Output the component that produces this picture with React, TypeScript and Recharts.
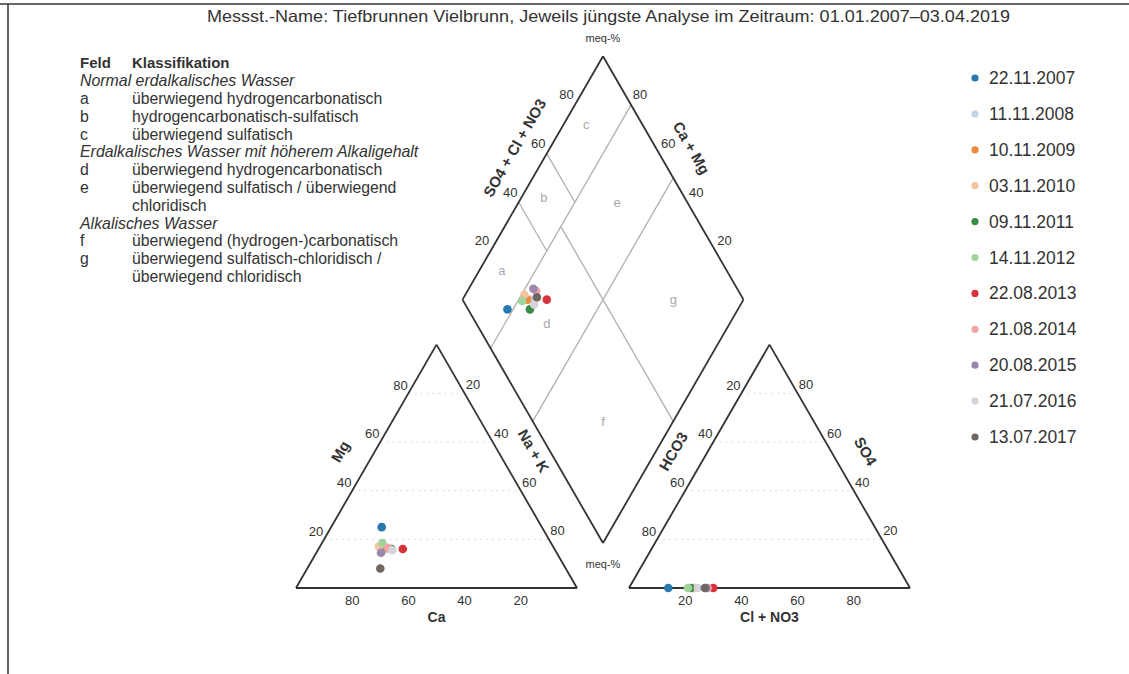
import React from 'react';
import { ScatterChart, Scatter, XAxis, YAxis, ReferenceLine } from 'recharts';

// ---------- data ----------
const sampleDates = [
  '22.11.2007', '11.11.2008', '10.11.2009', '03.11.2010', '09.11.2011', '14.11.2012',
  '22.08.2013', '21.08.2014', '20.08.2015', '21.07.2016', '13.07.2017',
];
const sampleColors = [
  '#2a78b0', '#c2d3e3', '#ee8a3c', '#f6c3a0', '#3a8b45', '#9fd49a',
  '#d8333a', '#f2a3a8', '#9a87ad', '#d6d2dc', '#6e6663',
];
// cations (meq-%)
const caPct = [57, 60, 61, 62, 58, 60, 54, 59, 62.5, 58, 66];
const mgPct = [25, 16, 16, 17, 16, 18.5, 16, 16.5, 14.5, 15.5, 8];
const naKPct = [18, 24, 23, 21, 26, 21.5, 30, 24.5, 23, 26.5, 26];
// anions (meq-%)
const hco3Pct = [86, 76, 77, 77, 78, 79, 70, 72, 72.5, 75.5, 73];
const so4Pct = [0, 0, 0, 0, 0, 0, 0, 0, 0, 0, 0];
const clNo3Pct = [14, 24, 23, 23, 22, 21, 30, 28, 27.5, 24.5, 27];

const tickValues = [20, 40, 60, 80];
const fieldLetters = ['a', 'b', 'c', 'd', 'e', 'f', 'g'];
const fieldLetterA = [0.2, 0.5, 0.8, 0.25, 0.75, 0.25, 0.75];
const fieldLetterN = [0.08, 0.08, 0.08, 0.35, 0.35, 0.75, 0.75];

const titleText = 'Messst.-Name: Tiefbrunnen Vielbrunn, Jeweils jüngste Analyse im Zeitraum: 01.01.2007\u201303.04.2019';
const classRows: Array<[string, string, string]> = [
  ['Feld', 'Klassifikation', 'head'],
  ['Normal erdalkalisches Wasser', '', 'group'],
  ['a', 'überwiegend hydrogencarbonatisch', 'item'],
  ['b', 'hydrogencarbonatisch-sulfatisch', 'item'],
  ['c', 'überwiegend sulfatisch', 'item'],
  ['Erdalkalisches Wasser mit höherem Alkaligehalt', '', 'group'],
  ['d', 'überwiegend hydrogencarbonatisch', 'item'],
  ['e', 'überwiegend sulfatisch / überwiegend', 'item'],
  ['', 'chloridisch', 'item'],
  ['Alkalisches Wasser', '', 'group'],
  ['f', 'überwiegend (hydrogen-)carbonatisch', 'item'],
  ['g', 'überwiegend sulfatisch-chloridisch /', 'item'],
  ['', 'überwiegend chloridisch', 'item'],
];

// ---------- layout ----------
const W = 1129;
const H = 674;
const S = 2.81;
const ORIGIN_X = 296;
const BASE_Y = 588;
const GAP = 18.5;
const R3 = Math.sqrt(3) / 2;
const XMIN = -ORIGIN_X / S;
const XMAX = (W - ORIGIN_X) / S;
const YMAX = BASE_Y / S;
const YMIN = -(H - BASE_Y) / S;
const X0 = 100 + GAP;
const FONT = "'Liberation Sans', Arial, Helvetica, sans-serif";
const TXT = '#333';

type P = { x: number; y: number };
const cat = (ca: number, mg: number, nak: number): P => {
  const t = ca + mg + nak;
  return { x: (100 * (nak + mg / 2)) / t, y: ((100 * mg) / t) * R3 };
};
const an = (hco3: number, so4: number, cl: number): P => {
  const t = hco3 + so4 + cl;
  return { x: X0 + (100 * (cl + so4 / 2)) / t, y: ((100 * so4) / t) * R3 };
};
const L: P = { x: 50 + GAP / 2, y: 100 * R3 + GAP * R3 };
const dia = (a: number, n: number): P => ({
  x: L.x + 50 * a + 50 * n,
  y: L.y + 100 * R3 * a - 100 * R3 * n,
});

type Seg = { p: P; q: P; kind: string };
const segs: Seg[] = [];
// dotted horizontal grid in triangles
tickValues.forEach((v) => {
  segs.push({ p: cat(100 - v, v, 0), q: cat(0, v, 100 - v), kind: 'grid' });
  segs.push({ p: an(100 - v, v, 0), q: an(0, v, 100 - v), kind: 'grid' });
});
// classification field lines in diamond
segs.push({ p: dia(0, 0.2), q: dia(1, 0.2), kind: 'field' });
segs.push({ p: dia(0, 0.5), q: dia(1, 0.5), kind: 'field' });
segs.push({ p: dia(0.5, 0.2), q: dia(0.5, 1), kind: 'field' });
segs.push({ p: dia(0.4, 0), q: dia(0.4, 0.2), kind: 'field' });
segs.push({ p: dia(0.6, 0), q: dia(0.6, 0.2), kind: 'field' });
// frames
const catA = cat(100, 0, 0), catB = cat(0, 0, 100), catC = cat(0, 100, 0);
const anA = an(100, 0, 0), anB = an(0, 0, 100), anC = an(0, 100, 0);
const dL = dia(0, 0), dT = dia(1, 0), dR = dia(1, 1), dB = dia(0, 1);
[[catA, catB], [catB, catC], [catC, catA], [anA, anB], [anB, anC], [anC, anA], [dL, dT], [dT, dR], [dR, dB], [dB, dL]].forEach(
  ([p, q]) => segs.push({ p, q, kind: 'frame' })
);

type Lab = P & { text: string; dx: number; dy: number; rot: number; size: number; weight: string; fill: string };
const labels: Lab[] = [];
const lab = (p: P, text: string, dx: number, dy: number, rot = 0, size = 13, weight = 'normal', fill = TXT) =>
  labels.push({ x: p.x, y: p.y, text, dx, dy, rot, size, weight, fill });
tickValues.forEach((v) => {
  const t = String(v);
  lab(cat(100 - v, v, 0), t, -8, -8);
  lab(cat(0, 100 - v, v), t, 8.5, -8.5);
  lab(cat(v, 0, 100 - v), t, 0, 12);
  lab(an(v, 100 - v, 0), t, -8, -8);
  lab(an(0, v, 100 - v), t, 8.5, -8.5);
  lab(an(100 - v, 0, v), t, 0, 12);
  lab(dia(v / 100, 0), t, -8.5, -10);
  lab(dia(1, 1 - v / 100), t, 9, -10);
});
lab(cat(50, 50, 0), 'Mg', -26, -15, -60, 15, 'bold');
lab(cat(0, 50, 50), 'Na + K', 27, -15.5, 60, 15, 'bold');
lab(cat(50, 0, 50), 'Ca', 0, 29, 0, 14, 'bold');
lab(an(50, 50, 0), 'HCO3', -26, -15, -60, 15, 'bold');
lab(an(0, 50, 50), 'SO4', 26, -15, 60, 15, 'bold');
lab(an(50, 0, 50), 'Cl + NO3', 0, 29, 0, 14, 'bold');
lab(dia(0.5, 0), 'SO4 + Cl + NO3', -18.3, -30.2, -60, 15, 'bold');
lab(dia(1, 0.5), 'Ca + Mg', 18.3, -30.2, 60, 15, 'bold');
lab(dT, 'meq-%', 0, -18, 0, 11);
lab(dB, 'meq-%', 0, 21, 0, 11);
fieldLetters.forEach((f, i) => lab(dia(fieldLetterA[i], fieldLetterN[i]), f, 0, 0, 0, 13, 'normal', '#a8a8a8'));

const samples = sampleDates.map((d, i) => {
  const c = cat(caPct[i], mgPct[i], naKPct[i]);
  const a = an(hco3Pct[i], so4Pct[i], clNo3Pct[i]);
  const sumA = hco3Pct[i] + so4Pct[i] + clNo3Pct[i];
  const sumC = caPct[i] + mgPct[i] + naKPct[i];
  const dd = dia((so4Pct[i] + clNo3Pct[i]) / sumA, naKPct[i] / sumC);
  return { date: d, color: sampleColors[i], points: [c, a, dd] };
});

const TextShape = (props: any) => {
  const d = props.payload as Lab;
  const x = props.cx + d.dx;
  const y = props.cy + d.dy;
  return (
    <text
      x={x}
      y={y}
      textAnchor="middle"
      dominantBaseline="central"
      fontFamily={FONT}
      fontSize={d.size}
      fontWeight={d.weight}
      fill={d.fill}
      transform={d.rot ? `rotate(${d.rot} ${x} ${y})` : undefined}
    >
      {d.text}
    </text>
  );
};

const segStyle = (kind: string) =>
  kind === 'frame'
    ? { stroke: '#333333', strokeWidth: 1.8 }
    : kind === 'field'
    ? { stroke: '#b0b0b0', strokeWidth: 1.3 }
    : { stroke: '#dadada', strokeWidth: 1, strokeDasharray: '2 4' };

export default function App() {
  const rowY = (i: number) => 63.3 + i * 17.8 + 5;
  return (
    <div style={{ position: 'absolute', left: 0, top: 0, width: W, height: H, background: '#fff', overflow: 'hidden' }}>
      <ScatterChart width={W} height={H} margin={{ top: 0, right: 0, bottom: 0, left: 0 }}>
        <XAxis type="number" dataKey="x" domain={[XMIN, XMAX]} allowDataOverflow hide />
        <YAxis type="number" dataKey="y" domain={[YMIN, YMAX]} allowDataOverflow hide />
        {segs.map((s, i) => (
          <ReferenceLine
            key={'s' + i}
            segment={[{ x: s.p.x, y: s.p.y }, { x: s.q.x, y: s.q.y }]}
            ifOverflow="visible"
            {...segStyle(s.kind)}
          />
        ))}
        <Scatter data={labels} isAnimationActive={false} shape={TextShape} />
        {samples.map((s) => (
          <Scatter
            key={s.date}
            name={s.date}
            data={s.points}
            isAnimationActive={false}
            shape={(p: any) => <circle cx={p.cx} cy={p.cy} r={4.3} fill={s.color} />}
          />
        ))}
      </ScatterChart>
      <svg width={W} height={H} style={{ position: 'absolute', left: 0, top: 0, pointerEvents: 'none' }}>
        <line x1={0} y1={4} x2={W} y2={4} stroke="#333" strokeWidth={1.5} />
        <line x1={8} y1={4} x2={8} y2={H} stroke="#333" strokeWidth={1.5} />
        <text
          x={207}
          y={22}
          textLength={803}
          lengthAdjust="spacingAndGlyphs"
          fontFamily={FONT}
          fontSize={16.5}
          fill={TXT}
        >
          {titleText}
        </text>
        {classRows.map((r, i) => {
          const y = rowY(i);
          if (r[2] === 'head')
            return (
              <g key={i} fontFamily={FONT} fontSize={15} fontWeight="bold" fill={TXT}>
                <text x={80} y={y}>{r[0]}</text>
                <text x={132} y={y}>{r[1]}</text>
              </g>
            );
          if (r[2] === 'group')
            return (
              <text key={i} x={80} y={y} fontFamily={FONT} fontSize={15.9} fontStyle="italic" fill={TXT}>
                {r[0]}
              </text>
            );
          return (
            <g key={i} fontFamily={FONT} fontSize={15.8} fill={TXT}>
              <text x={80} y={y}>{r[0]}</text>
              <text x={132} y={y}>{r[1]}</text>
            </g>
          );
        })}
        {sampleDates.map((d, i) => {
          const y = 78 + i * 35.9;
          return (
            <g key={d}>
              <circle cx={975} cy={y} r={3.6} fill={sampleColors[i]} />
              <text x={989} y={y} dominantBaseline="central" fontFamily={FONT} fontSize={17.5} fill={TXT}>
                {d}
              </text>
            </g>
          );
        })}
      </svg>
    </div>
  );
}
